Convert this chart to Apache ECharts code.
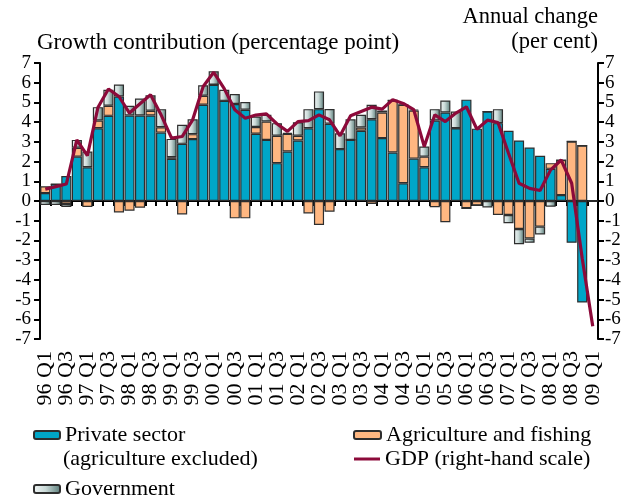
<!DOCTYPE html>
<html>
<head>
<meta charset="utf-8">
<script src="https://cdn.jsdelivr.net/npm/echarts@6/dist/echarts.min.js"></script>
<style>html,body{margin:0;padding:0;background:#fff}#c{width:630px;height:497px}</style>
</head>
<body>
<div id="c"></div>
<script>
const quarters = ['96 Q1','96 Q2','96 Q3','96 Q4','97 Q1','97 Q2','97 Q3','97 Q4','98 Q1','98 Q2','98 Q3','98 Q4','99 Q1','99 Q2','99 Q3','99 Q4','00 Q1','00 Q2','00 Q3','00 Q4','01 Q1','01 Q2','01 Q3','01 Q4','02 Q1','02 Q2','02 Q3','02 Q4','03 Q1','03 Q2','03 Q3','03 Q4','04 Q1','04 Q2','04 Q3','04 Q4','05 Q1','05 Q2','05 Q3','05 Q4','06 Q1','06 Q2','06 Q3','06 Q4','07 Q1','07 Q2','07 Q3','07 Q4','08 Q1','08 Q2','08 Q3','08 Q4','09 Q1'];
const privateSector = [0.4,0.86,1.27,2.25,1.71,3.69,4.32,5.3,4.34,4.34,4.34,3.47,2.14,2.9,3.14,4.88,5.9,5.08,4.92,4.63,3.41,3.1,1.92,2.51,3.07,3.69,4.66,3.92,2.63,3.1,3.56,4.15,3.19,2.46,0.9,2.15,1.71,4.08,4.49,3.69,5.14,3.67,4.54,3.95,3.56,3.07,2.71,2.29,1.63,0.3,-2.12,-5.15,0];
const agriculture = [0.35,0,-0.15,0.45,-0.3,0.39,0.51,-0.58,-0.49,-0.34,0.24,0.27,0.08,-0.68,0.25,0.46,0,0,-0.88,-0.88,0.34,0.93,1.39,0.9,0.24,-0.63,-1.22,-0.54,0,0,0.17,-0.15,1.3,2.64,3.98,2.44,0.54,-0.32,-1.08,0,-0.37,-0.22,0,-0.71,-0.71,-1.42,-1.9,-1.3,0.29,1.78,3.02,2.81,0];
const government = [-0.2,-0.2,-0.15,0.4,0.8,0.68,0.81,0.61,0.49,0.86,0.78,0.92,0.93,0.97,0.76,0.53,0.68,0.56,0.51,0.39,0.54,0.34,0.64,0.05,0.68,0.97,0.9,0.75,0.81,1.05,0.64,0.73,0.1,0,0,0.05,0.51,0.58,0.61,0.85,0,0,-0.33,0.71,-0.42,-0.77,-0.22,-0.4,-0.29,0,0,0,0];
const gdp = [0.6,0.73,0.86,3.1,2.3,4.74,5.68,5.3,4.46,4.93,5.39,4.37,3.19,3.27,4.12,5.81,6.53,5.7,4.63,4.2,4.36,4.42,3.92,3.53,4.03,4.08,4.37,4.12,3.31,4.32,4.54,4.76,4.66,5.14,4.95,4.63,2.76,4.37,4.03,4.46,4.78,3.64,4.1,3.98,2.42,0.9,0.64,0.53,1.58,2.08,0.9,-2.9,-6.35];
const yTicks = [-7,7,1];

const FONT = '"Liberation Serif", "DejaVu Serif", serif';
const chart = echarts.init(document.getElementById('c'), null, {renderer:'canvas'});
const govGrad = new echarts.graphic.LinearGradient(0,0,1,0,[{offset:0,color:'#f3f7f7'},{offset:0.45,color:'#c9d9d7'},{offset:1,color:'#587b78'}]);
const barBorder = {borderColor:'#2e2e2e', borderWidth:1.2};
const legText = {fontSize:22,color:'#000',fontFamily:FONT};
chart.setOption({
  animation:false,
  textStyle:{fontFamily:FONT},
  grid:{left:40,right:32,top:63,bottom:158},
  xAxis:[
    {type:'category', data:quarters, boundaryGap:true, position:'bottom',
     axisLine:{onZero:true, lineStyle:{color:'#000',width:2}},
     axisTick:{show:true, inside:false, length:5, interval:0, lineStyle:{color:'#000',width:2}},
     axisLabel:{show:false}, splitLine:{show:false}},
    {type:'category', data:quarters, boundaryGap:true, position:'bottom',
     axisLine:{show:false, onZero:false}, axisTick:{show:false},
     axisLabel:{show:true, interval:0, rotate:90, margin:12, color:'#000',
                fontSize:22, lineHeight:15, fontFamily:FONT, hideOverlap:false,
                formatter:function(v,i){return i%2===0 ? v : '';}},
     splitLine:{show:false}}
  ],
  yAxis:[
    {type:'value', min:yTicks[0], max:yTicks[1], interval:yTicks[2], position:'left',
     axisLine:{show:true,onZero:false,lineStyle:{color:'#000',width:2}},
     axisTick:{show:true,inside:false,length:6,lineStyle:{color:'#000',width:2}},
     axisLabel:{color:'#000',fontSize:19,margin:9,fontFamily:FONT}, splitLine:{show:false}},
    {type:'value', min:yTicks[0], max:yTicks[1], interval:yTicks[2], position:'right',
     axisLine:{show:true,onZero:false,lineStyle:{color:'#000',width:2}},
     axisTick:{show:true,inside:false,length:6,lineStyle:{color:'#000',width:2}},
     axisLabel:{color:'#000',fontSize:19,margin:7,fontFamily:FONT}, splitLine:{show:false}}
  ],
  legend:[
    {data:['Private sector'], left:33, top:424, itemWidth:26, itemHeight:8, itemGap:0, padding:0, textStyle:legText},
    {data:['Government'], left:33, top:478, itemWidth:26, itemHeight:8, padding:0, textStyle:legText},
    {data:['Agriculture and fishing'], left:353, top:424, itemWidth:27, itemHeight:8, padding:0, textStyle:legText},
    {data:[{name:'GDP (right-hand scale)', icon:'rect'}], left:354, top:448, itemWidth:26, itemHeight:3, padding:0, textStyle:legText}
  ],
  graphic:[
    {type:'text', left:37, top:31, style:{text:'Growth contribution (percentage point)', font:'23px '+FONT, fill:'#000'}},
    {type:'text', right:32, top:6, style:{text:'Annual change', font:'22.5px '+FONT, fill:'#000'}},
    {type:'text', right:32, top:31, style:{text:'(per cent)', font:'22.5px '+FONT, fill:'#000'}},
    {type:'text', left:63, top:448, style:{text:'(agriculture excluded)', font:'22px '+FONT, fill:'#000'}}
  ],
  series:[
    {name:'Private sector', type:'bar', stack:'c', data:privateSector, barCategoryGap:'4%',
     itemStyle:Object.assign({color:'#00a6c8'},barBorder)},
    {name:'Agriculture and fishing', type:'bar', stack:'c', data:agriculture,
     itemStyle:Object.assign({color:'#ffb781'},barBorder)},
    {name:'Government', type:'bar', stack:'c', data:government,
     itemStyle:Object.assign({color:govGrad},barBorder)},
    {name:'GDP (right-hand scale)', type:'line', yAxisIndex:1, data:gdp, symbol:'none', z:10,
     lineStyle:{color:'#8c0a3a',width:3.2}, itemStyle:{color:'#8c0a3a'}}
  ]
});
</script>
</body>
</html>
